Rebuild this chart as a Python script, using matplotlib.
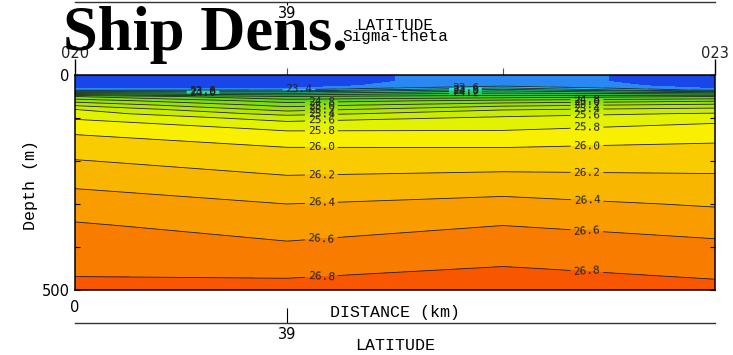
import numpy as np
import matplotlib
matplotlib.use("Agg")
import matplotlib.pyplot as plt
import matplotlib.transforms as mtransforms
from matplotlib.colors import ListedColormap, BoundaryNorm

# stations along the section
stations = ["020", "021", "022", "023"]
distance_km = [0, 58, 117, 175]
station_lat = ["", "39", "", ""]

depth_m = [0, 15, 25, 30, 35, 40, 50, 60, 70, 80, 90, 100,
           125, 150, 175, 200, 250, 300, 350, 400, 450, 500]

# sigma-theta profiles (kg/m3 - 1000)
sigma_020 = [23.10, 23.10, 23.12, 23.16, 23.34, 23.90, 24.80, 25.12, 25.37, 25.60, 25.69, 25.78,
             25.94, 26.05, 26.13, 26.21, 26.36, 26.50, 26.62, 26.70, 26.77, 26.85]
sigma_021 = [23.10, 23.10, 23.12, 23.18, 23.42, 23.85, 24.40, 24.71, 24.93, 25.12, 25.33, 25.52,
             25.77, 25.92, 26.03, 26.10, 26.25, 26.40, 26.52, 26.63, 26.75, 26.86]
sigma_022 = [23.30, 23.30, 23.36, 23.60, 23.92, 24.13, 24.49, 24.86, 25.14, 25.38, 25.53, 25.63,
             25.78, 25.91, 26.03, 26.11, 26.29, 26.46, 26.60, 26.70, 26.81, 26.88]
sigma_023 = [23.10, 23.10, 23.12, 23.16, 23.34, 23.90, 24.60, 24.97, 25.26, 25.46, 25.62, 25.74,
             25.86, 25.97, 26.06, 26.13, 26.25, 26.38, 26.52, 26.65, 26.75, 26.85]

levels = [23.0, 23.2, 23.4, 23.6, 23.8, 24.0, 24.2, 24.4, 24.6, 24.8, 25.0,
          25.2, 25.4, 25.6, 25.8, 26.0, 26.2, 26.4, 26.6, 26.8, 27.0]
line_levels = levels[2:-1]

band_colors = ["#1846e8", "#2a88f2", "#1ec8f0", "#22e4d8", "#20dca0", "#20d060",
               "#2cc83a", "#44cc20", "#62d418", "#80dc10", "#9ae008", "#b2e600",
               "#caec00", "#e2f200", "#f8f000", "#f8cc00", "#f8b600", "#f89c00",
               "#f87c00", "#f85600"]

# which contours get labels, and where along the section (fraction of distance)
label_groups = [
    (0.35, [23.4]),
    (0.20, [23.6, 23.8, 24.0]),
    (0.61, [23.6, 23.8, 24.0, 24.2]),
    (0.385, [24.8, 25.0, 25.2, 25.4, 25.6, 25.8, 26.0, 26.2, 26.4, 26.6, 26.8]),
    (0.80, [24.8, 25.0, 25.2, 25.4, 25.6, 25.8, 26.0, 26.2, 26.4, 26.6, 26.8]),
]

W, H = 733, 355
L, R, T, B = 75, 715, 75, 290
PX = 72 / 100  # points per pixel
mono = "Liberation Mono"

fig = plt.figure(figsize=(W / 100, H / 100), dpi=100)
ax = fig.add_axes([L / W, 1 - B / H, (R - L) / W, (B - T) / H])

X, Y = np.meshgrid(distance_km, depth_m)
Z = np.column_stack([sigma_020, sigma_021, sigma_022, sigma_023])

cmap = ListedColormap(band_colors)
norm = BoundaryNorm(levels, cmap.N)
ax.contourf(X, Y, Z, levels=levels, cmap=cmap, norm=norm)
cs = ax.contour(X, Y, Z, levels=line_levels, colors="#222222", linewidths=0.6)

# put the labels on the lines at the chosen distances
x_span = distance_km[-1] - distance_km[0]
points = []
for frac, levs in label_groups:
    xl = distance_km[0] + frac * x_span
    for lev in levs:
        i = line_levels.index(lev)
        segs = [s for s in cs.allsegs[i] if len(s)]
        pts = np.concatenate(segs)
        k = np.argmin(np.abs(pts[:, 0] - xl))
        points.append((xl, pts[k, 1]))
labels = cs.clabel(manual=points, inline=True, inline_spacing=4, fmt="%.1f",
                   fontsize=8, colors="#222222")
for t in labels:
    t.set_fontfamily("DejaVu Sans Mono")

ax.set_xlim(distance_km[0], distance_km[-1])
ax.set_ylim(500, 0)
ax.set_yticks([0, 100, 200, 300, 400, 500], ["0", "", "", "", "", "500"])
ax.tick_params(axis="y", left=True, right=True, direction="in", length=5 * PX,
               labelsize=10.5, pad=4, width=0.8)
ax.set_xticks([distance_km[0]], ["0"])
ax.tick_params(axis="x", bottom=False, labelsize=10.5, pad=4)
for s in ax.spines.values():
    s.set_linewidth(1.1)

# station marks on top of the section
trans = mtransforms.blended_transform_factory(ax.transData, ax.transAxes)
ax.vlines(distance_km[1:-1], 1.0, 1.0 + 7 / (B - T), transform=trans,
          colors="#555555", linewidth=0.8, clip_on=False)
ax.vlines([distance_km[0], distance_km[-1]], 1.0, 1.0 + 16 / (B - T), transform=trans,
          colors="black", linewidth=1.0, clip_on=False)
for d, name in [(distance_km[0], stations[0]), (distance_km[-1], stations[-1])]:
    ax.text(d, 1.0 + 22 / (B - T), name, transform=trans, ha="center", va="center",
            fontsize=10.5, color="#222222")

# latitude axes above and below
lat_top = fig.add_axes([L / W, 1 - 1.5 / H, (R - L) / W, 1e-4])
lat_bot = fig.add_axes([L / W, 1 - 323 / H, (R - L) / W, 1e-4])
for a, direction, length, pad in [(lat_top, "out", 3, 1), (lat_bot, "in", 15, 3)]:
    a.set_xlim(distance_km[0], distance_km[-1])
    a.set_facecolor("none")
    for side in ["top", "left", "right"]:
        a.spines[side].set_visible(False)
    a.spines["bottom"].set_linewidth(1.0)
    a.spines["bottom"].set_color("#333333")
    a.set_yticks([])
    a.set_xticks([distance_km[1]], [station_lat[1]])
    a.tick_params(axis="x", direction=direction, length=length * PX, pad=pad,
                  labelsize=10.5, width=0.8)

fig.text(395 / W, 1 - 25 / H, "LATITUDE", ha="center", va="center",
         fontfamily=mono, fontsize=11.5)
fig.text(395 / W, 1 - 37 / H, "Sigma-theta", ha="center", va="center",
         fontfamily=mono, fontsize=11.5)
fig.text(395 / W, 1 - 313 / H, "DISTANCE (km)", ha="center", va="center",
         fontfamily=mono, fontsize=12)
fig.text(395 / W, 1 - 346 / H, "LATITUDE", ha="center", va="center",
         fontfamily=mono, fontsize=12)
fig.text(30 / W, 1 - 185 / H, "Depth (m)", ha="center", va="center", rotation=90,
         fontfamily=mono, fontsize=12)

fig.text(63 / W, 1 - 50 / H, "Ship Dens.", ha="left", va="baseline",
         fontfamily="Liberation Serif", fontweight="bold", fontsize=45)

fig.savefig("out.png", dpi=100)
